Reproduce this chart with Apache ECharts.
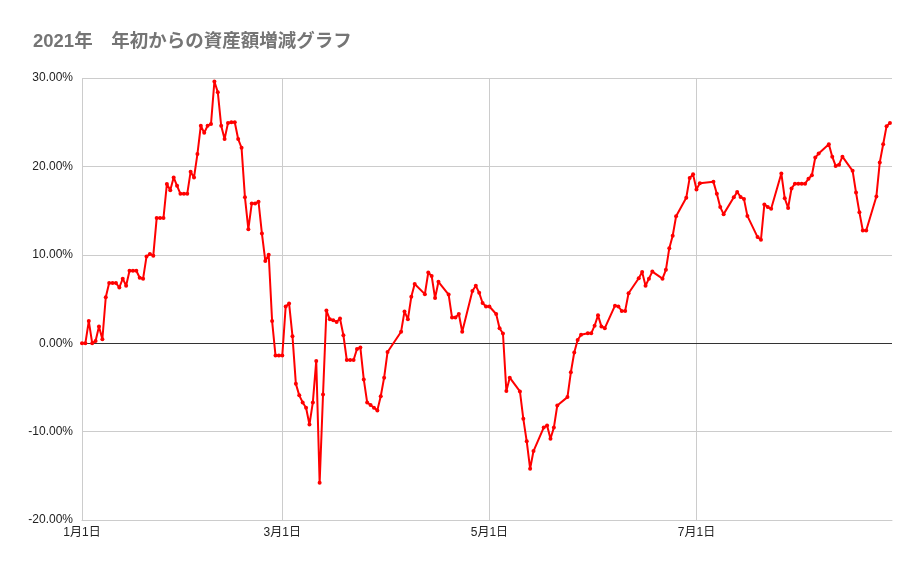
<!DOCTYPE html>
<html>
<head>
<meta charset="utf-8">
<script src="https://cdn.jsdelivr.net/npm/echarts@6/dist/echarts.min.js"></script>
<style>
html,body{margin:0;padding:0;background:#fff;}
#c{width:921px;height:569px;}
</style>
</head>
<body>
<div id="c"></div>
<script>
// Day offsets counted from 2021-01-01
const dayOffsets = [
  0,1,2,3,4,5,6,7,8,9,10,11,12,13,14,15,16,17,18,19,20,21,22,23,24,25,26,27,28,29,
  30,31,32,33,34,35,36,37,38,39,40,41,42,43,44,45,46,47,48,49,50,51,52,53,54,55,56,57,58,59,
  60,61,62,63,64,65,66,67,68,69,70,71,72,73,74,75,76,77,78,79,80,81,82,83,84,85,86,87,88,89,90,
  94,95,96,97,98,101,102,103,104,105,108,109,110,111,112,115,116,117,118,119,120,
  122,123,124,125,126,129,130,131,132,133,136,137,138,139,140,
  143,144,145,146,147,149,150,151,152,153,154,157,158,159,160,161,
  164,165,166,167,168,171,172,173,174,175,178,179,180,181,182,
  186,187,188,189,192,193,194,195,196,199,200,201,202,203,
  206,207,208,209,210,211,212,213,214,215,216,217,220,221,222,223,224,
  227,228,229,230,231,234,235,236,237,238
];
// Change from start of year, percent
const changePct = [
  0,0,2.5,0,0.25,1.9,0.45,5.2,6.8,6.8,6.8,6.3,7.3,6.5,8.2,8.2,8.2,7.4,7.3,9.8,10.1,9.9,14.15,14.15,14.15,18.0,17.3,18.75,17.8,16.9,
  16.9,16.9,19.4,18.75,21.4,24.6,23.8,24.6,24.8,29.6,28.4,24.6,23.1,24.9,25.0,25.0,23.1,22.1,16.5,12.9,15.8,15.8,16.0,12.4,9.3,10.0,2.5,-1.4,-1.4,-1.4,
  4.15,4.5,0.8,-4.6,-5.9,-6.7,-7.3,-9.2,-6.7,-2.0,-15.8,-5.8,3.7,2.7,2.6,2.4,2.8,0.9,-1.9,-1.9,-1.9,-0.65,-0.5,-4.1,-6.7,-7.0,-7.3,-7.6,-6.0,-3.9,-1.0,
  1.3,3.6,2.7,5.25,6.7,5.55,8.0,7.6,5.1,6.95,5.5,2.9,2.9,3.3,1.3,5.9,6.5,5.7,4.55,4.15,4.15,
  3.3,1.7,1.1,-5.4,-3.9,-5.45,-8.55,-11.1,-14.2,-12.2,-9.55,-9.3,-10.8,-9.55,-7.05,
  -6.1,-3.3,-1.05,0.37,0.95,1.12,1.12,1.98,3.15,1.9,1.7,4.25,4.15,3.65,3.65,5.65,
  7.35,8.05,6.5,7.3,8.1,7.3,8.3,10.75,12.15,14.35,16.45,18.7,19.1,17.4,18.1,
  18.25,16.9,15.4,14.6,16.5,17.1,16.55,16.3,14.4,12.0,11.7,15.7,15.4,15.2,
  19.2,16.4,15.3,17.5,18.05,18.05,18.05,18.05,18.6,19.0,21.0,21.45,22.5,21.1,20.05,20.2,21.1,
  19.5,17.05,14.8,12.75,12.75,16.6,20.45,22.5,24.55,24.9
];
// x tick labels: day offsets of 1月1日, 3月1日, 5月1日, 7月1日
const xTickDays = [0, 59, 120, 181];
const yTicks = [-20, -10, 0, 10, 20, 30];

function dayLabel(d){
  const dt = new Date(2021, 0, 1 + Math.round(d));
  return (dt.getMonth() + 1) + '月' + dt.getDate() + '日';
}

const seriesData = dayOffsets.map((d, i) => [d, changePct[i]]);

const font = "'Liberation Sans', Arial, 'Noto Sans CJK JP', sans-serif";

const chart = echarts.init(document.getElementById('c'), null, {renderer: 'canvas'});
chart.setOption({
  animation: false,
  backgroundColor: '#ffffff',
  title: {
    text: '2021年　年初からの資産額増減グラフ',
    left: 28,
    top: 28,
    textStyle: {
      fontFamily: "'Liberation Sans', Arial, 'Noto Sans CJK JP', sans-serif",
      fontSize: 18.5,
      fontWeight: 'bold',
      color: '#757575'
    }
  },
  grid: {left: 82, right: 29, top: 78, bottom: 49, containLabel: false},
  xAxis: {
    type: 'value',
    min: 0,
    max: 238.6,
    axisLine: {onZero: false, lineStyle: {color: '#cccccc', width: 1}},
    axisTick: {show: false},
    splitLine: {show: false},
    axisLabel: {
      customValues: xTickDays,
      interval: 0,
      margin: 7,
      color: '#222222',
      fontSize: 12,
      fontFamily: font,
      hideOverlap: false,
      showMinLabel: true,
      showMaxLabel: true,
      formatter: function (v) { return dayLabel(v); }
    }
  },
  yAxis: {
    type: 'value',
    min: yTicks[0],
    max: yTicks[yTicks.length - 1],
    interval: 10,
    axisLine: {show: false},
    axisTick: {show: false},
    splitLine: {lineStyle: {color: '#cccccc', width: 1}},
    axisLabel: {
      margin: 9,
      color: '#222222',
      fontSize: 12,
      fontFamily: font,
      formatter: function (v) { return v.toFixed(2) + '%'; }
    }
  },
  series: [
    {
      type: 'line',
      data: [],
      z: 1,
      silent: true,
      markLine: {
        z: 1,
        silent: true,
        symbol: ['none', 'none'],
        label: {show: false},
        animation: false,
        data: xTickDays.map(t => ({xAxis: t, lineStyle: {color: '#cccccc', width: 1, type: 'solid'}}))
          .concat([{yAxis: 0, lineStyle: {color: '#333333', width: 1, type: 'solid'}}])
      }
    },
    {
      type: 'line',
      z: 3,
      data: seriesData,
      showSymbol: true,
      symbol: 'circle',
      symbolSize: 4,
      lineStyle: {color: '#ff0000', width: 2},
      itemStyle: {color: '#ff0000'},
      emphasis: {disabled: true}
    }
  ]
});
</script>
</body>
</html>
